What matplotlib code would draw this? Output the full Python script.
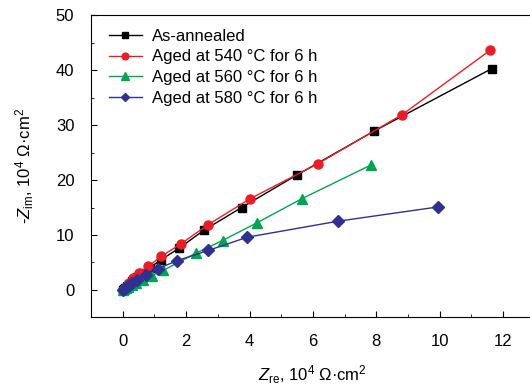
import matplotlib
matplotlib.use("Agg")
import matplotlib.pyplot as plt
from matplotlib.ticker import MultipleLocator

plt.rcParams['font.family'] = ['Liberation Sans', 'DejaVu Sans']
plt.rcParams['mathtext.fontset'] = 'custom'
plt.rcParams['mathtext.rm'] = 'Liberation Sans'
plt.rcParams['mathtext.it'] = 'Liberation Sans:italic'

# dados (Z', -Z'') em 10^4 ohm.cm2
x_annealed = [0.0, 0.03, 0.07, 0.12, 0.2, 0.3, 0.45, 0.62, 0.86, 1.21, 1.79, 2.57, 3.75, 5.49, 7.93, 11.64]
y_annealed = [0.0, 0.15, 0.4, 0.7, 1.1, 1.6, 2.3, 3.1, 4.06, 5.5, 7.65, 10.9, 15.0, 20.9, 28.9, 40.25]

x_540 = [0.0, 0.03, 0.07, 0.12, 0.2, 0.33, 0.52, 0.81, 1.21, 1.84, 2.70, 4.02, 6.15, 8.82, 11.59]
y_540 = [0.0, 0.2, 0.45, 0.8, 1.3, 2.2, 3.1, 4.3, 6.1, 8.4, 11.9, 16.6, 22.95, 31.9, 43.6]

x_560 = [0.0, 0.04, 0.1, 0.18, 0.28, 0.42, 0.65, 0.91, 1.28, 2.31, 3.15, 4.23, 5.65, 7.82]
y_560 = [0.0, 0.15, 0.35, 0.6, 0.9, 1.3, 1.9, 2.6, 3.57, 6.7, 9.0, 12.2, 16.6, 22.7]

x_580 = [0.0, 0.03, 0.07, 0.12, 0.2, 0.3, 0.44, 0.73, 1.12, 1.70, 2.70, 3.93, 6.78, 9.94]
y_580 = [0.0, 0.15, 0.35, 0.6, 0.9, 1.3, 1.9, 2.8, 3.9, 5.3, 7.2, 9.6, 12.5, 15.1]

rotulos = ["As-annealed", "Aged at 540 °C for 6 h", "Aged at 560 °C for 6 h", "Aged at 580 °C for 6 h"]

fig = plt.figure(figsize=(5.3, 3.87), dpi=100)
ax = fig.add_axes([0.1717, 0.1796, 0.8375, 0.7816])

ax.plot(x_annealed, y_annealed, marker='s', ms=5.5, c='black', lw=1.0, label=rotulos[0])
ax.plot(x_540, y_540, marker='o', ms=6.5, c='#ED1C24', lw=1.0, label=rotulos[1])
ax.plot(x_560, y_560, marker='^', ms=7, c='#00A651', lw=1.0, label=rotulos[2])
ax.plot(x_580, y_580, marker='D', ms=6, c='#2E3192', lw=1.0, label=rotulos[3])

ax.set_xlim(-1, 13)
ax.set_ylim(-5, 50)
ax.xaxis.set_major_locator(MultipleLocator(2))
ax.xaxis.set_minor_locator(MultipleLocator(1))
ax.yaxis.set_major_locator(MultipleLocator(10))
ax.yaxis.set_minor_locator(MultipleLocator(5))
ax.tick_params(which='both', direction='in', labelsize=12, pad=12)
ax.tick_params(which='major', length=4)
ax.tick_params(which='minor', length=2)

ax.set_xlabel(r'$Z_{\rm re}$, 10$^4$ Ω·cm$^2$', fontsize=12, labelpad=10)
ax.set_ylabel(r'-$Z_{\rm im}$, 10$^4$ Ω·cm$^2$', fontsize=12, labelpad=14)

ax.legend(loc='upper left', bbox_to_anchor=(0.04, 0.955), frameon=False, fontsize=12,
          handlelength=2.0, handletextpad=0.6, labelspacing=0.35, borderpad=0, borderaxespad=0,
          markerscale=0.75)

plt.savefig("out.png", dpi=100)
